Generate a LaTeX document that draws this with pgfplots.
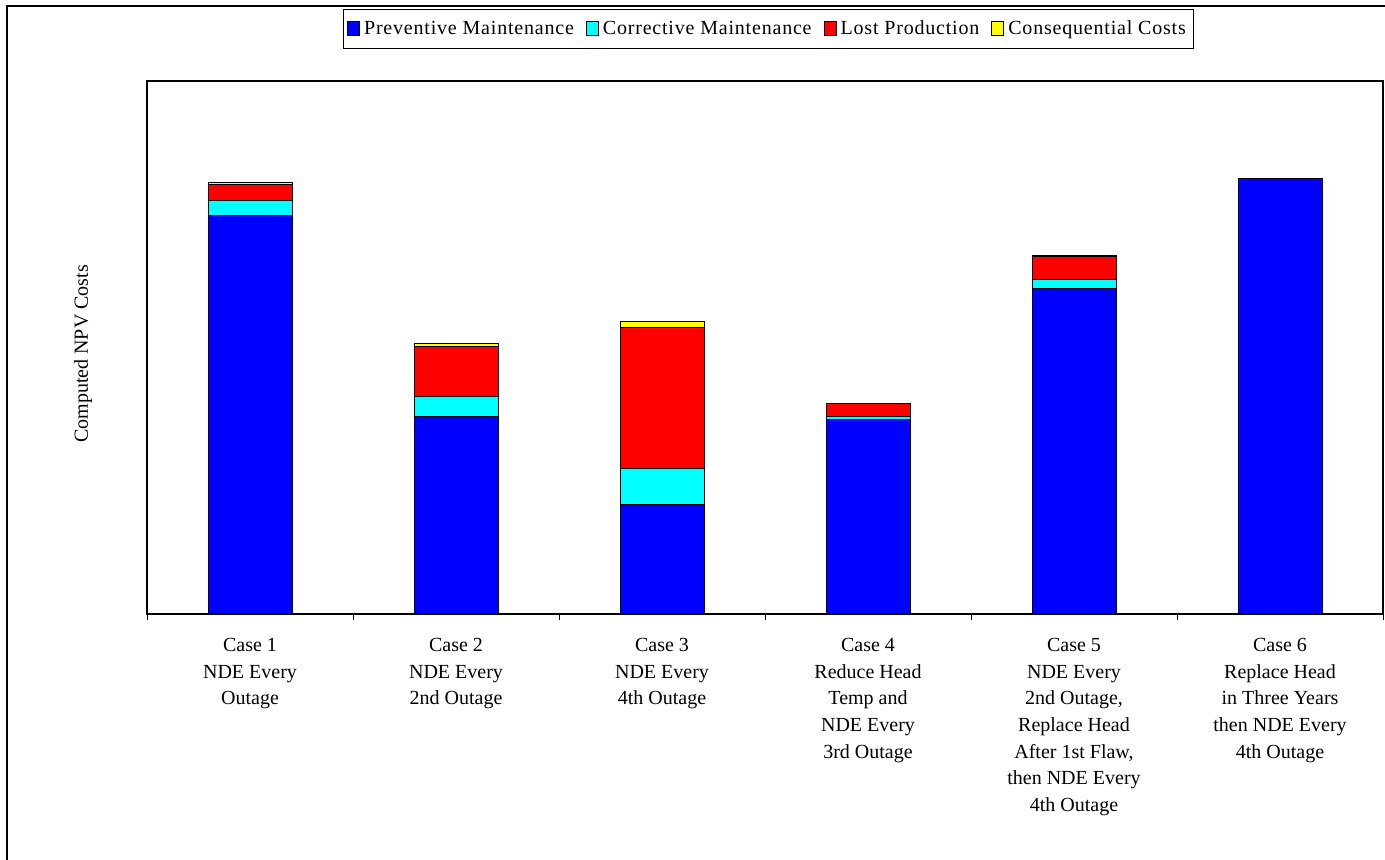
\documentclass[border=0pt]{standalone}
\usepackage{fontspec}
\setmainfont{Liberation Serif}
\newfontfamily\legendfont[LetterSpace=4]{Liberation Serif}
\usepackage{pgfplots}
\pgfplotsset{compat=1.18}

\definecolor{pmblue}{RGB}{0,0,255}
\definecolor{cmcyan}{RGB}{0,255,255}
\definecolor{lpred}{RGB}{255,0,0}
\definecolor{ccyellow}{RGB}{255,255,0}

\begin{document}
\begin{tikzpicture}
% page area and the chart frame (left and top edges)
\useasboundingbox (0,0) rectangle (692.5pt,430pt);
\draw[line width=0.6pt] (3.5pt,-5pt) -- (3.5pt,427pt) -- (700pt,427pt);

\begin{axis}[
  at={(73.5pt,123pt)}, anchor=south west,
  width=618pt, height=266.5pt, scale only axis,
  ybar stacked, bar width=42pt,
  xmin=-0.5, xmax=5.5, ymin=0, ymax=533,
  axis line style={line width=0.6pt},
  ytick=\empty,
  xtick={0,1,2,3,4,5},
  minor xtick={-0.5,0.5,1.5,2.5,3.5,4.5,5.5},
  major tick length=0pt, minor tick length=3pt,
  tick align=outside, xtick pos=bottom,
  tick style={line width=0.5pt, black},
  xticklabels={
    {Case 1\\NDE Every\\Outage},
    {Case 2\\NDE Every\\2nd Outage},
    {Case 3\\NDE Every\\4th Outage},
    {Case 4\\Reduce Head\\Temp and\\NDE Every\\3rd Outage},
    {Case 5\\NDE Every\\2nd Outage,\\Replace Head\\After 1st Flaw,\\then NDE Every\\4th Outage},
    {Case 6\\Replace Head\\in Three Years\\then NDE Every\\4th Outage}},
  xticklabel style={align=center, font=\fontsize{10}{13.35}\selectfont, anchor=north, yshift=-8.5pt},
  ylabel={Computed NPV Costs},
  every axis y label/.style={at={(axis description cs:-0.0518,0.488)}, rotate=90, anchor=center, font=\fontsize{10}{12}\selectfont},
  every axis plot/.append style={draw=black, line width=0.5pt},
  area legend,
  legend columns=4,
  legend style={at={(axis description cs:0.5028,1)}, anchor=south, yshift=16pt,
    draw=black, line width=0.6pt, font=\legendfont\fontsize{10}{12}\selectfont,
    inner xsep=2pt, inner ysep=3.5pt,
    /tikz/every even column/.append style={column sep=4pt}},
  legend image code/.code={\draw[#1, line width=0.5pt] (0pt,-3.2pt) rectangle (6pt,3.8pt);},
]
% cost components per case
\addplot[fill=pmblue] coordinates {(0,398) (1,197.7) (2,109.7) (3,194) (4,325) (5,435)};
\addplot[fill=cmcyan] coordinates {(0,15.5) (1,20) (2,35.3) (3,3.5) (4,9.3) (5,0)};
\addplot[fill=lpred] coordinates {(0,16) (1,49.6) (2,141) (3,12.6) (4,23) (5,0)};
\addplot[fill=ccyellow] coordinates {(0,2.4) (1,3.4) (2,6.3) (3,0.5) (4,1.5) (5,0)};
\legend{Preventive Maintenance, Corrective Maintenance, Lost Production, Consequential Costs}
\end{axis}
\end{tikzpicture}
\end{document}
